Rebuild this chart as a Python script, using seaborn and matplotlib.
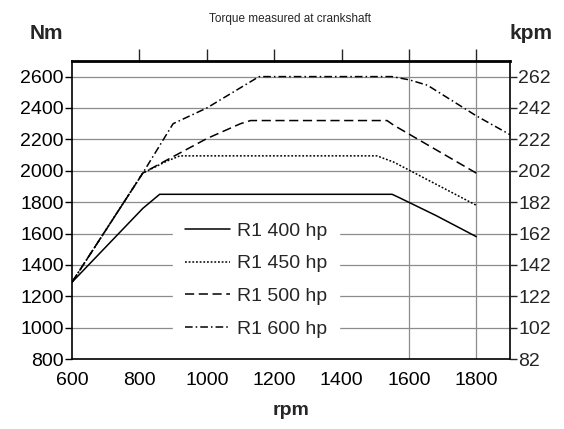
import matplotlib
matplotlib.use("Agg")
import matplotlib.pyplot as plt
import seaborn as sns
import pandas as pd

# engine speed (rpm) and torque (Nm)
rpm_400 = [600, 810, 860, 1550, 1570, 1680, 1800]
nm_400 = [1290, 1760, 1850, 1850, 1830, 1715, 1580]

rpm_450 = [600, 810, 880, 920, 1505, 1555, 1800]
nm_450 = [1290, 1985, 2060, 2095, 2095, 2055, 1780]

rpm_500 = [600, 810, 900, 1000, 1100, 1130, 1535, 1555, 1800]
nm_500 = [1290, 1985, 2090, 2205, 2300, 2320, 2320, 2290, 1985]

rpm_600 = [600, 810, 900, 1000, 1155, 1550, 1600, 1655, 1800, 1900]
nm_600 = [1290, 1985, 2300, 2400, 2600, 2600, 2580, 2545, 2350, 2230]

series_names = ["R1 400 hp", "R1 450 hp", "R1 500 hp", "R1 600 hp"]

nm_ticks = [800, 1000, 1200, 1400, 1600, 1800, 2000, 2200, 2400, 2600]
kpm_labels = ["82", "102", "122", "142", "162", "182", "202", "222", "242", "262"]
rpm_ticks = [600, 800, 1000, 1200, 1400, 1600, 1800]
vgrid_rpm = [1600, 1800]

frames = []
for name, r, n in zip(series_names,
                      [rpm_400, rpm_450, rpm_500, rpm_600],
                      [nm_400, nm_450, nm_500, nm_600]):
    frames.append(pd.DataFrame({"rpm": r, "Nm": n, "engine": name}))
df = pd.concat(frames, ignore_index=True)

sns.set_style("white")
plt.rcParams["font.family"] = ["Liberation Sans", "DejaVu Sans"]

fig = plt.figure(figsize=(5.64, 4.29), dpi=100)
ax = fig.add_axes([0.1277, 0.163, 0.7766, 0.695])

dashes = {
    "R1 400 hp": "",
    "R1 450 hp": (1.2, 1.2),
    "R1 500 hp": (6, 3),
    "R1 600 hp": (5, 2, 1, 2),
}
sns.lineplot(data=df, x="rpm", y="Nm", style="engine", dashes=dashes,
             color="black", linewidth=1.1, sort=False, estimator=None,
             ax=ax, zorder=3)

ax.set_xlim(600, 1900)
ax.set_ylim(800, 2700)
ax.set_xticks(rpm_ticks)
ax.set_yticks(nm_ticks)
ax.tick_params(axis="both", labelsize=14, colors="black")
ax.tick_params(axis="y", direction="out", length=5, width=1, pad=1)
ax.tick_params(axis="x", direction="out", length=6, width=1, pad=3)
ax.grid(axis="y", color="#8c8c8c", linewidth=0.9)
for v in vgrid_rpm:
    ax.axvline(v, color="#8c8c8c", linewidth=0.9, zorder=1)

for s in ax.spines.values():
    s.set_color("black")
    s.set_linewidth(1.2)
ax.spines["top"].set_linewidth(2)

top = ax.secondary_xaxis("top")
top.set_xticks(rpm_ticks[1:])
top.set_xticklabels([])
top.tick_params(direction="out", length=9, width=1)
top.spines["top"].set_visible(False)

ax2 = ax.twinx()
ax2.set_ylim(ax.get_ylim())
ax2.set_yticks(nm_ticks)
ax2.set_yticklabels(kpm_labels)
ax2.tick_params(axis="y", direction="out", length=5, width=1, labelsize=14, pad=1)
for s in ax2.spines.values():
    s.set_visible(False)

ax.set_xlabel("rpm", fontsize=14, fontweight="bold", labelpad=10)
ax.set_ylabel("")

leg = ax.legend(loc="center", bbox_to_anchor=(0.42, 0.265), frameon=True,
                fontsize=14, handlelength=2.3, handletextpad=0.35,
                labelspacing=0.78, borderpad=0.6)
leg.get_frame().set_facecolor("white")
leg.get_frame().set_edgecolor("white")
leg.get_frame().set_alpha(1)
leg.set_title(None)

fig.text(0.515, 0.955, "Torque measured at crankshaft", ha="center", va="center", fontsize=8.5)
fig.text(0.082, 0.922, "Nm", ha="center", va="center", fontsize=15, fontweight="bold")
fig.text(0.942, 0.922, "kpm", ha="center", va="center", fontsize=15, fontweight="bold")

fig.savefig("out.png", dpi=100)
